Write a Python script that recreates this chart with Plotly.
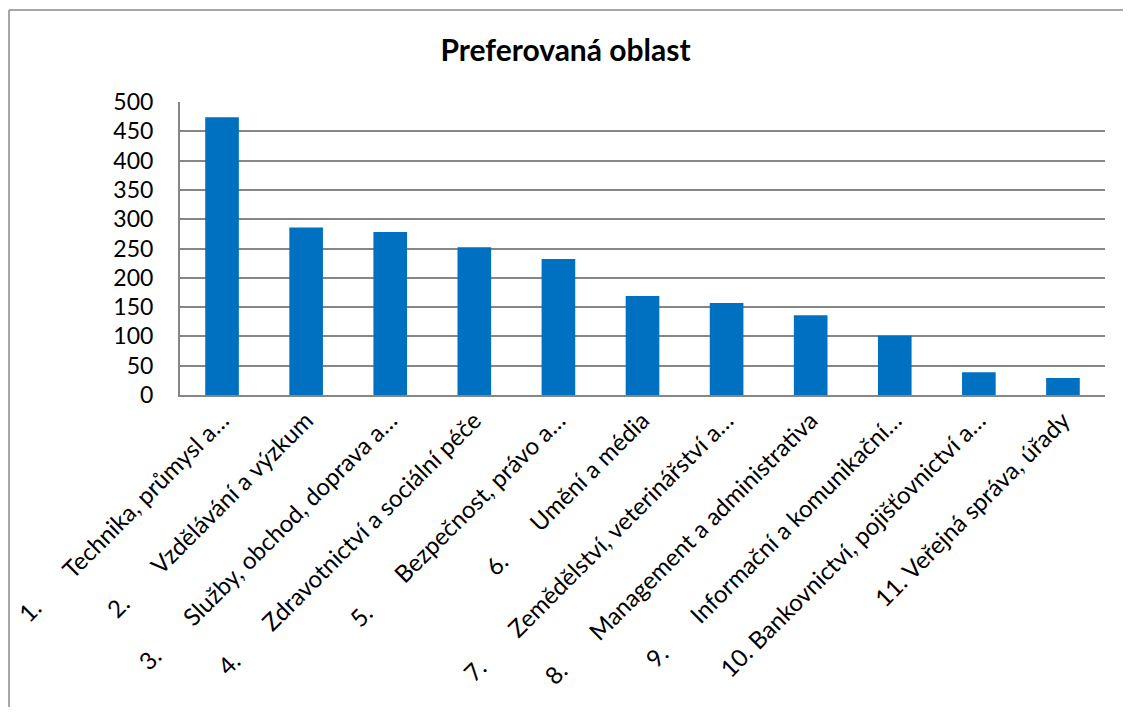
import plotly.graph_objects as go

NB = "\u00a0"
numbers = ["1.", "2.", "3.", "4.", "5.", "6.", "7.", "8.", "9.", "10.", "11."]
names = [
    "Technika, průmysl a…",
    "Vzdělávání a výzkum",
    "Služby, obchod, doprava a…",
    "Zdravotnictví a sociální péče",
    "Bezpečnost, právo a…",
    "Umění a média",
    "Zemědělství, veterinářství a…",
    "Management a administrativa",
    "Informační a komunikační…",
    "Bankovnictví, pojišťovnictví a…",
    "Veřejná správa, úřady",
]
values = [474, 286, 278, 252, 232, 169, 157, 136, 101, 39, 29]
y_ticks = [0, 50, 100, 150, 200, 250, 300, 350, 400, 450, 500]

labels = []
for n, t in zip(numbers, names):
    sep = NB if len(n) > 2 else NB * 7
    labels.append(n + sep + t)

x = list(range(len(values)))

FONT = "Lato, Carlito, Calibri, sans-serif"

fig = go.Figure(
    go.Bar(
        x=x,
        y=values,
        marker=dict(color="#0070C0", line=dict(width=0)),
        width=0.4,
    )
)

# page body has an 8px margin; figure sized to fit inside the window
OFF = 8
W, H = 1131 - 2 * OFF, 715 - 2 * OFF
L, T = 180 - OFF, 102 - OFF
R = W - (1105 - OFF)
B = H - (395 - OFF)
pw, ph = W - L - R, H - T - B

fig.update_layout(
    width=W,
    height=H,
    margin=dict(l=L, r=R, t=T, b=B, autoexpand=False),
    paper_bgcolor="white",
    plot_bgcolor="white",
    showlegend=False,
    font=dict(family=FONT, color="black", size=23),
    title=dict(
        text="<b>Preferovaná oblast</b>",
        x=0.5,
        xref="container",
        y=1 - (50 - OFF) / H,
        yref="container",
        xanchor="center",
        yanchor="middle",
        font=dict(family=FONT, size=30, color="black"),
    ),
    xaxis=dict(
        tickmode="array",
        tickvals=x,
        ticktext=labels,
        tickangle=-45,
        range=[-0.5, len(values) - 0.5],
        showline=True,
        linecolor="#868686",
        linewidth=2,
        showgrid=False,
        ticks="",
        tickfont=dict(family=FONT, size=24, color="black"),
        automargin=False,
    ),
    yaxis=dict(
        range=[0, 500],
        tickmode="array",
        tickvals=y_ticks,
        showline=True,
        linecolor="#868686",
        linewidth=2,
        showgrid=True,
        gridcolor="#868686",
        gridwidth=2,
        zeroline=False,
        ticks="",
        ticklabelstandoff=20,
        tickfont=dict(family=FONT, size=23, color="black"),
        automargin=False,
    ),
    shapes=[
        dict(type="line", xref="paper", yref="paper",
             x0=(1 - L) / pw, x1=(W + 5 - L) / pw,
             y0=(H - B - 2) / ph, y1=(H - B - 2) / ph,
             line=dict(color="#898989", width=1.5)),
        dict(type="line", xref="paper", yref="paper",
             x0=(1 - L) / pw, x1=(1 - L) / pw,
             y0=(H - B - 2) / ph, y1=(H - B - H - 5) / ph,
             line=dict(color="#898989", width=1.5)),
    ],
)

fig.write_html("out.html")
